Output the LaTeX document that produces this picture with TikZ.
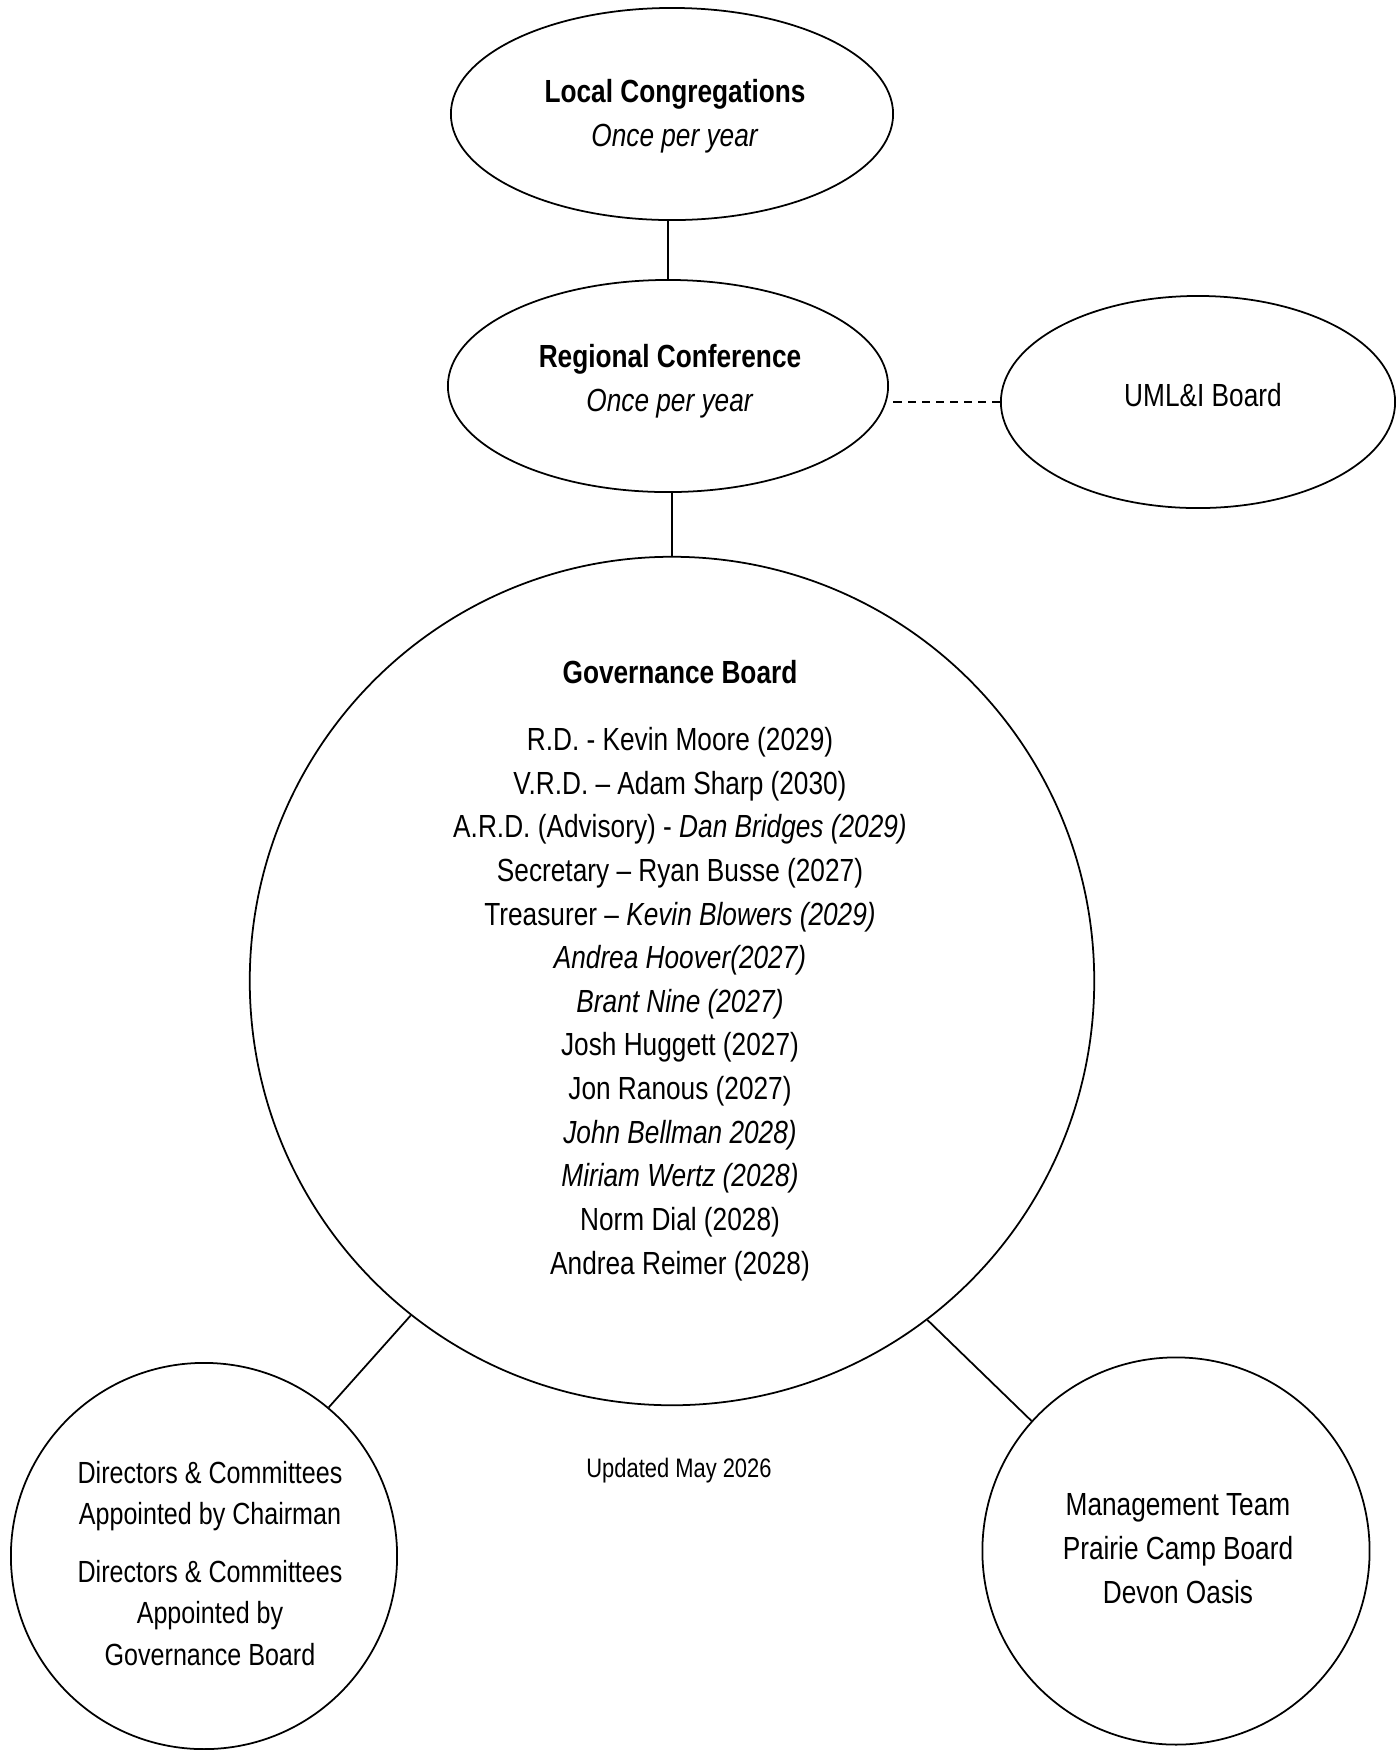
\documentclass[tikz,border=0pt]{standalone}
\usepackage{fontspec}
\setmainfont{Liberation Sans}[FakeStretch=0.82]
\usetikzlibrary{shapes.geometric}
\tikzset{
	bubble/.style={shape=ellipse,draw,inner sep=0pt,line width=0.5pt},
	txt/.style={align=center,inner sep=0pt,anchor=base,font=\fontsize{9.1}{12.4}\selectfont},
	link/.style={line width=0.5pt},
}
\begin{document}
\begin{tikzpicture}[x=0.01cm,y=-0.01cm]
	\useasboundingbox (0,0) rectangle (1399,1750);
	\node[bubble,minimum width=4.42cm,minimum height=2.12cm] (loc) at (672,114) {};
	\node[bubble,minimum width=4.40cm,minimum height=2.12cm] (reg) at (668,386) {};
	\node[bubble,minimum width=3.94cm,minimum height=2.12cm] (uml) at (1198,402) {};
	\node[bubble,minimum width=8.44cm,minimum height=8.48cm] (gov) at (672,981) {};
	\node[bubble,minimum width=3.86cm,minimum height=3.86cm] (dir) at (204,1556) {};
	\node[bubble,minimum width=3.87cm,minimum height=3.87cm] (mgmt) at (1176,1551) {};
	\node[txt] (loctext) at (675,146) {\textbf{Local Congregations}\\\textit{Once per year}};
	\node[txt] (regtext) at (670,411) {\textbf{Regional Conference}\\\textit{Once per year}};
	\node[txt] (umltext) at (1203,406) {UML\&I Board};
	\node[txt] (govtext) at (680,1274) {\textbf{Governance Board}\\[6.7pt]
		R.D. - Kevin Moore (2029)\\
		V.R.D. – Adam Sharp (2030)\\
		A.R.D. (Advisory) - \textit{Dan Bridges (2029)}\\
		Secretary – Ryan Busse (2027)\\
		Treasurer – \textit{Kevin Blowers (2029)}\\
		\textit{Andrea Hoover(2027)}\\
		\textit{Brant Nine (2027)}\\
		Josh Huggett (2027)\\
		Jon Ranous (2027)\\
		\textit{John Bellman 2028)}\\
		\textit{Miriam Wertz (2028)}\\
		Norm Dial (2028)\\
		Andrea Reimer (2028)};
	\node[txt,font=\fontsize{8.7}{11.8}\selectfont] (dirtext) at (210,1665) {Directors \& Committees\\Appointed by Chairman\\[4.5pt]
		Directors \& Committees\\Appointed by\\Governance Board};
	\node[txt,font=\fontsize{9.1}{12.5}\selectfont] (mgmttext) at (1178,1603) {Management Team\\Prairie Camp Board\\Devon Oasis};
	\node[txt,font=\fontsize{7.6}{9}\selectfont] (upd) at (679,1477) {Updated May 2026};
	\draw[link] (reg.north) -- (reg.north |- loc.south);
	\draw[link] (gov.north) -- (gov.north |- reg.south);
	\draw[link,dash pattern=on 2.3pt off 1.7pt] (uml.west) -- (uml.west -| reg.east);
	\draw[link] (gov.232.3) -- (dir.50.6);
	\draw[link] (gov.307.4) -- (mgmt.138);
\end{tikzpicture}
\end{document}
